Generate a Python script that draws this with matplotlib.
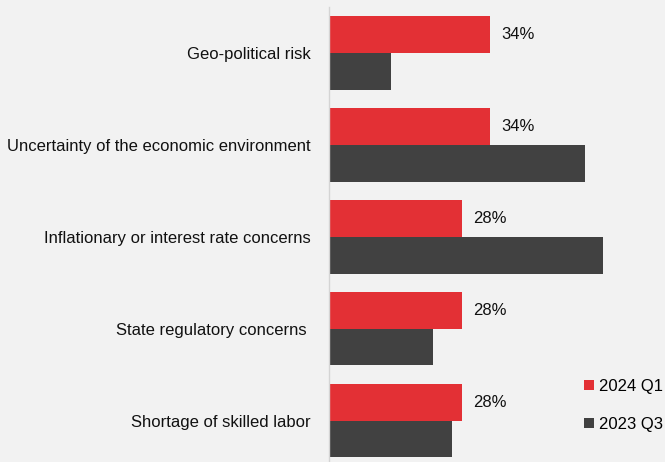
import numpy as np
import matplotlib.pyplot as plt

categories = [
    "Geo-political risk",
    "Uncertainty of the economic environment",
    "Inflationary or interest rate concerns",
    "State regulatory concerns ",
    "Shortage of skilled labor",
]
q1_2024 = [34, 34, 28, 28, 28]
q3_2023 = [13, 54, 58, 22, 26]
series_names = ["2024 Q1", "2023 Q3"]

RED = "#e33035"
DARK = "#414141"
BG = "#f2f2f2"

plt.rcParams['font.family'] = ['Liberation Sans', 'DejaVu Sans']

fig = plt.figure(figsize=(6.65, 4.62), dpi=100, facecolor=BG)
ax = fig.add_axes([329 / 665, 0, 1 - 329 / 665, 1 - 7 / 462])
ax.set_facecolor(BG)

y = np.arange(len(categories))
h = 0.4
b1 = ax.barh(y - h / 2, q1_2024, height=h, color=RED, label=series_names[0])
b2 = ax.barh(y + h / 2, q3_2023, height=h, color=DARK, label=series_names[1])

for rect, v in zip(b1, q1_2024):
    ax.text(rect.get_width() + 2.5, rect.get_y() + rect.get_height() / 2,
            f"{v}%", va='center', ha='left', fontsize=12, color='#111111')

ax.set_ylim(4.45, -0.5)
ax.set_xlim(0, 71)
ax.set_yticks(y)
ax.set_yticklabels(categories, fontsize=12, color='#111111')
ax.tick_params(axis='y', length=0, pad=13)
ax.set_xticks([])
for s in ['top', 'right', 'bottom']:
    ax.spines[s].set_visible(False)
ax.spines['left'].set_color('#d4d4d4')
ax.spines['left'].set_linewidth(1)

fig.legend(handles=[b1, b2], labels=series_names, loc='upper left',
           bbox_to_anchor=(577 / 665, 1 - 372 / 462), frameon=False,
           fontsize=12, handlelength=0.6, handleheight=0.6, handletextpad=0.3,
           labelspacing=1.4, borderaxespad=0)

fig.savefig("out.png", dpi=100, facecolor=BG)
